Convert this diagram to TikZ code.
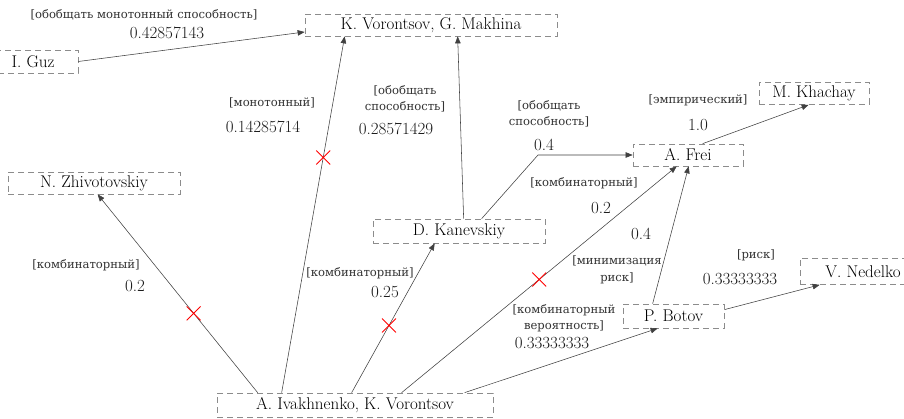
\documentclass[tikz,border=0pt]{standalone}
\usepackage{fontspec}
\newfontfamily\cyr{DejaVu Serif}
\usetikzlibrary{arrows.meta,shapes.misc}
\begin{document}
\begin{tikzpicture}[x=1pt,y=-1pt,
  box/.style={draw=black!45, dash pattern=on 6pt off 4pt, line width=0.7pt, inner sep=0pt,
    font=\fontsize{17}{19}\selectfont},
  link/.style={draw=black!75, line width=0.55pt, -{Triangle[length=7pt,width=5.5pt]}},
  lab/.style={font=\cyr\fontsize{11.6}{16.5}\selectfont, align=center, inner sep=0pt, text=black!80},
  num/.style={font=\fontsize{17}{19}\selectfont, inner sep=0pt, text=black!90},
  xmark/.style={cross out, draw=red, line width=0.9pt, minimum size=13pt, inner sep=0pt}]
\fill[white] (0,0) rectangle (904,419);
\useasboundingbox (0,0) rectangle (904,419);

% nodes
\node[box, minimum width=252pt, minimum height=22pt] (kvgm) at (431,25) {K. Vorontsov, G. Makhina};
\node[box, minimum width=90pt, minimum height=23pt] (guz) at (33,61.5) {I. Guz};
\node[box, minimum width=110pt, minimum height=22pt] (khachay) at (814,93.5) {M. Khachay};
\node[box, minimum width=172pt, minimum height=22pt] (zhiv) at (94,183) {N. Zhivotovskiy};
\node[box, minimum width=110pt, minimum height=22pt] (frei) at (688,155) {A. Frei};
\node[box, minimum width=172pt, minimum height=24pt] (kanev) at (459,231) {D. Kanevskiy};
\node[box, minimum width=126pt, minimum height=26pt] (nedelko) at (863,271.5) {V. Nedelko};
\node[box, minimum width=101pt, minimum height=24pt] (botov) at (673.5,316) {P. Botov};
\node[box, minimum width=276pt, minimum height=24pt] (ivak) at (355,405) {A. Ivakhnenko, K. Vorontsov};

% connectors
\draw[link] (guz.east) -- ([yshift=-7pt]kvgm.west);
\draw[link] ([xshift=65pt]ivak.north west) -- node[xmark, pos=0.66] (x1) {} ([xshift=40pt]kvgm.south west);
\draw[link] ([xshift=91pt]kanev.north west) -- ([xshift=153pt]kvgm.south west);
\coordinate (bend) at (538,155);
\draw[link] ([xshift=109pt]kanev.north west) -- (bend) -- (frei.west);
\draw[link] ([xshift=70pt]frei.north west) -- ([xshift=50pt]khachay.south west);
\draw[link] ([xshift=185pt]ivak.north west) -- node[xmark, pos=0.5] (x2) {} ([xshift=44pt]frei.south west);
\draw[link] ([xshift=30pt]botov.north west) -- ([xshift=56pt]frei.south west);
\draw[link] ([xshift=248pt]ivak.north west) -- ([xshift=35pt]botov.south west);
\draw[link] ([yshift=-6pt]botov.north east) -- ([xshift=20pt]nedelko.south west);
\draw[link] ([xshift=135pt]ivak.north west) -- node[xmark, pos=0.45] (x3) {} ([xshift=62pt]kanev.south west);
\draw[link] ([xshift=41pt]ivak.north west) -- node[xmark, pos=0.4] (x4) {} ([xshift=90pt]zhiv.south west);

% labels
\node[lab] (l1a) at (144,15) {[обобщать монотонный способность]};
\node[num] (l1b) at (167,33) {0.42857143};
\node[lab] (l2a) at (272,103) {[монотонный]};
\node[num] (l2b) at (263,127) {0.14285714};
\node[lab] (l3a) at (405,99) {[обобщать\\способность]};
\node[num] (l3b) at (396,129) {0.28571429};
\node[lab] (l4a) at (549,114) {[обобщать\\способность]};
\node[num] (l4b) at (544,145) {0.4};
\node[lab] (l5a) at (698,100) {[эмпирический]};
\node[num] (l5b) at (698,125) {1.0};
\node[lab] (l6a) at (584,183) {[комбинаторный]};
\node[num] (l6b) at (601,208) {0.2};
\node[lab] (l7a) at (617,270) {[минимизация\\риск]};
\node[num] (l7b) at (641,234) {0.4};
\node[lab] (l8a) at (564,318) {[комбинаторный\\вероятность]};
\node[num] (l8b) at (552,343) {0.33333333};
\node[lab] (l9a) at (756,255) {[риск]};
\node[num] (l9b) at (740,279) {0.33333333};
\node[lab] (l10a) at (360,273) {[комбинаторный]};
\node[num] (l10b) at (385,292) {0.25};
\node[lab] (l11a) at (86,265) {[комбинаторный]};
\node[num] (l11b) at (135,286) {0.2};
\end{tikzpicture}
\end{document}
